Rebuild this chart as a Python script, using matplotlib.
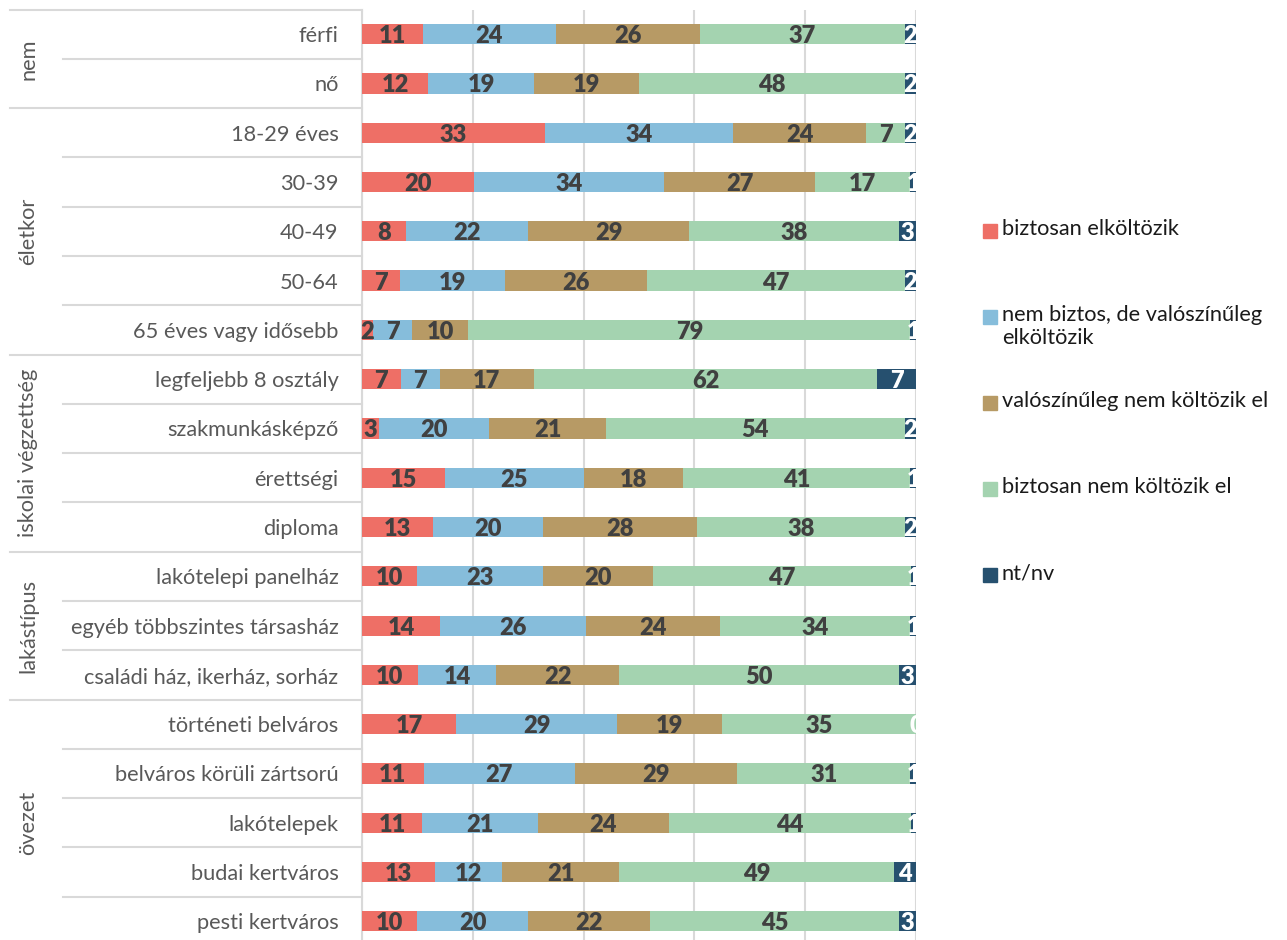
import matplotlib.pyplot as plt
from matplotlib.patches import Rectangle
import numpy as np

plt.rcParams['font.family'] = ['Lato', 'DejaVu Sans']

categories = ['férfi', 'nő', '18-29 éves', '30-39', '40-49', '50-64',
              '65 éves vagy idősebb', 'legfeljebb 8 osztály', 'szakmunkásképző',
              'érettségi', 'diploma', 'lakótelepi panelház',
              'egyéb többszintes társasház', 'családi ház, ikerház, sorház',
              'történeti belváros', 'belváros körüli zártsorú', 'lakótelepek',
              'budai kertváros', 'pesti kertváros']

groups = ['nem', 'életkor', 'iskolai végzettség', 'lakástípus', 'övezet']
group_sizes = [2, 5, 4, 3, 5]

series = ['biztosan elköltözik', 'nem biztos, de valószínűleg\nelköltözik',
          'valószínűleg nem költözik el', 'biztosan nem költözik el', 'nt/nv']
colors = ['#EE6F66', '#86BDDB', '#B79A65', '#A4D3B0', '#26506F']
label_colors = ['#404040', '#404040', '#404040', '#404040', 'white']

biztosan_el = [11, 12, 33, 20, 8, 7, 2, 7, 3, 15, 13, 10, 14, 10, 17, 11, 11, 13, 10]
valoszinuleg_el = [24, 19, 34, 34, 22, 19, 7, 7, 20, 25, 20, 23, 26, 14, 29, 27, 21, 12, 20]
valoszinuleg_nem = [26, 19, 24, 27, 29, 26, 10, 17, 21, 18, 28, 20, 24, 22, 19, 29, 24, 21, 22]
biztosan_nem = [37, 48, 7, 17, 38, 47, 79, 62, 54, 41, 38, 47, 34, 50, 35, 31, 44, 49, 45]
ntnv = [2, 2, 2, 1, 3, 2, 1, 7, 2, 1, 2, 1, 1, 3, 0, 1, 1, 4, 3]

values = np.array([biztosan_el, valoszinuleg_el, valoszinuleg_nem, biztosan_nem, ntnv], dtype=float)
shares = values / values.sum(axis=0) * 100

fig = plt.figure(figsize=(12.87, 9.40), dpi=100)
W, H = 1287, 940
ax_left, ax_right, ax_top, ax_bottom = 362, 916, 9.5, 946
ax = fig.add_axes([ax_left / W, 1 - ax_bottom / H, (ax_right - ax_left) / W, (ax_bottom - ax_top) / H])

y = np.arange(len(categories))
left = np.zeros(len(categories))
for k in range(len(series)):
    ax.barh(y, shares[k], left=left, height=0.41, color=colors[k], zorder=3)
    for i in range(len(categories)):
        ax.text(left[i] + shares[k][i] / 2, y[i] + 0.04, str(int(values[k][i])),
                ha='center', va='center', fontsize=17, fontweight='heavy',
                color=label_colors[k], zorder=4, clip_on=False)
    left += shares[k]

ax.set_xlim(0, 100)
ax.set_ylim(len(categories) - 0.5, -0.5)
ax.set_xticks(range(0, 101, 20))
ax.tick_params(axis='x', length=0, labelbottom=False)
ax.grid(axis='x', color='#D9D9D9', lw=1.5, zorder=0)
for s in ['top', 'right', 'bottom']:
    ax.spines[s].set_visible(False)
ax.spines['left'].set_color('#D9D9D9')
ax.spines['left'].set_linewidth(1.5)

ax.set_yticks(y)
ax.set_yticklabels(categories, fontsize=15.7, color='#595959')
ax.tick_params(axis='y', length=0, pad=17)

# separators and group labels
tr = ax.get_yaxis_transform()
x_outer = (10 - ax_left) / (ax_right - ax_left)
x_inner = (63 - ax_left) / (ax_right - ax_left)
x_group = (28 - ax_left) / (ax_right - ax_left)
start = 0
ax.plot([x_outer, 0], [-0.5, -0.5], transform=tr, color='#D9D9D9', lw=1.5, clip_on=False)
for g, n in zip(groups, group_sizes):
    for j in range(start, start + n - 1):
        ax.plot([x_inner, 0], [j + 0.5, j + 0.5], transform=tr, color='#D9D9D9', lw=1.5, clip_on=False)
    end = start + n
    ax.plot([x_outer, 0], [end - 0.5, end - 0.5], transform=tr, color='#D9D9D9', lw=1.5, clip_on=False)
    ax.text(x_group, (start + end - 1) / 2, g, transform=tr, rotation=90,
            ha='center', va='center', fontsize=15.7, color='#595959')
    start = end

# legend
leg_y = [231, 317, 403, 489, 575]
for name, c, ly in zip(series, colors, leg_y):
    fig.patches.append(Rectangle((983 / W, 1 - (ly + 7) / H), 14 / W, 14 / H,
                                 transform=fig.transFigure, color=c))
    fig.text(1002 / W, 1 - (ly - 12) / H, name, ha='left', va='top',
             fontsize=15.7, color='#1A1A1A', linespacing=1.2)

fig.savefig('out.png', dpi=100)
